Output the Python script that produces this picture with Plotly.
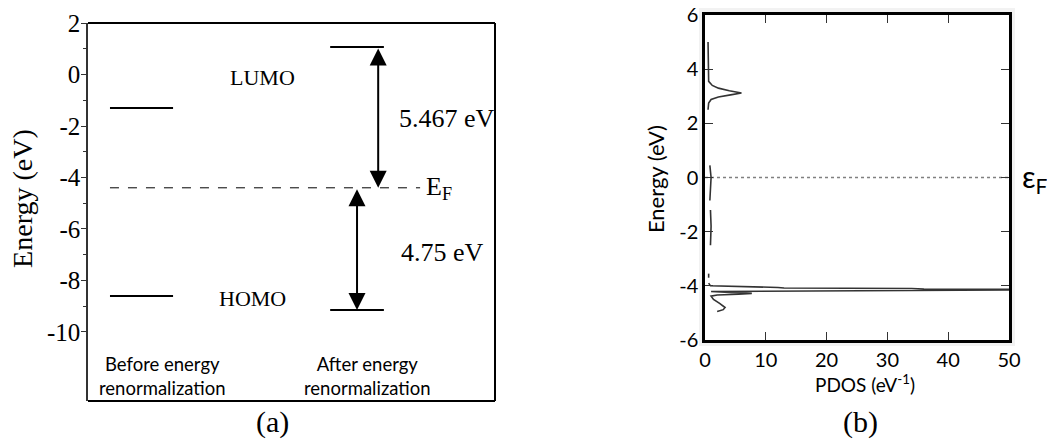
import plotly.graph_objects as go

# ---- Panel (a): energy levels before/after renormalization ----
level_labels = ["LUMO", "HOMO"]
before_levels = [-1.3, -8.6]          # eV
after_levels = [1.067, -9.15]         # eV
fermi_level = -4.4                    # eV
gap_up_label = "5.467 eV"
gap_down_label = "4.75 eV"
a_ticks = [2, 0, -2, -4, -6, -8, -10]
a_minor = [1, -1, -3, -5, -7, -9]

# ---- Panel (b): projected density of states ----
pdos_energy = [
    5.0, 4.5, 4.0, 3.55, 3.4, 3.3, 3.2, 3.12, 3.05, 2.97, 2.88, 2.75, 2.5, None,
    0.45, 0.0, -0.85, None,
    -1.2, -1.8, -2.5, None,
    -3.55, -3.7, None,
    -3.9, -4.0, -4.06, -4.08, -4.10, -4.12, -4.14, -4.16, -4.18, -4.20, -4.21,
    -4.24, -4.28, -4.31, -4.34, -4.38, -4.5, -4.65, -4.8, -4.88, -4.95,
]
pdos_value = [
    0.5, 0.5, 0.5, 0.6, 1.2, 2.2, 4.0, 6.0, 4.2, 2.2, 1.0, 0.6, 0.5, None,
    0.8, 1.0, 0.8, None,
    0.9, 1.0, 0.9, None,
    0.6, 0.6, None,
    0.6, 0.9, 12.0, 13.0, 34.0, 36.0, 60.0, 36.0, 13.0, 12.0, 1.0,
    4.0, 7.7, 5.5, 2.0, 1.0, 1.4, 2.4, 3.3, 3.0, 2.0,
]
fermi_b = 0.0
b_xticks = [0, 10, 20, 30, 40, 50]
b_yticks = [-6, -4, -2, 0, 2, 4, 6]

SERIF = "Liberation Serif"
SANS = "Lato"

fig = go.Figure()

# energy levels in panel (a)
before_x = (0.054, 0.209)
after_x = (0.595, 0.727)
for lv in before_levels:
    fig.add_trace(go.Scatter(x=list(before_x), y=[lv, lv], mode="lines",
                             line=dict(color="black", width=2),
                             xaxis="x", yaxis="y", hoverinfo="skip"))
for lv in after_levels:
    fig.add_trace(go.Scatter(x=list(after_x), y=[lv, lv], mode="lines",
                             line=dict(color="black", width=2),
                             xaxis="x", yaxis="y", hoverinfo="skip"))
# Fermi level (dashed)
fig.add_trace(go.Scatter(x=[0.054, 0.816], y=[fermi_level, fermi_level], mode="lines",
                         line=dict(color="black", width=1, dash="dash"),
                         xaxis="x", yaxis="y", hoverinfo="skip"))

# panel (b): Fermi dotted line and PDOS curve
fig.add_trace(go.Scatter(x=[0, 50], y=[fermi_b, fermi_b], mode="lines",
                         line=dict(color="#808080", width=1.5, dash="dot"),
                         xaxis="x2", yaxis="y2", hoverinfo="skip"))
fig.add_trace(go.Scatter(x=pdos_value, y=pdos_energy, mode="lines",
                         line=dict(color="#333333", width=1.6),
                         connectgaps=False, xaxis="x2", yaxis="y2", hoverinfo="skip"))

annotations = []

# double-headed gap arrows
annotations.append(dict(x=0.713, y=fermi_level, ax=0.713, ay=after_levels[0],
                        xref="x", yref="y", axref="x", ayref="y", text="",
                        showarrow=True, arrowhead=2, startarrowhead=2,
                        arrowside="end+start", arrowsize=1.7, startarrowsize=1.7,
                        arrowwidth=2, arrowcolor="black"))
annotations.append(dict(x=0.661, y=after_levels[1], ax=0.661, ay=fermi_level,
                        xref="x", yref="y", axref="x", ayref="y", text="",
                        showarrow=True, arrowhead=2, startarrowhead=2,
                        arrowside="end+start", arrowsize=1.7, startarrowsize=1.7,
                        arrowwidth=2, arrowcolor="black"))

def txt(text, x, y, size, family, xref="x", yref="y", xanchor="center",
        yanchor="middle", angle=0):
    annotations.append(dict(text=text, x=x, y=y, xref=xref, yref=yref,
                            xanchor=xanchor, yanchor=yanchor, showarrow=False,
                            textangle=angle,
                            font=dict(size=size, family=family, color="black")))

txt(level_labels[0], 0.428, -0.1, 22, SERIF)
txt(level_labels[1], 0.403, -8.68, 22, SERIF)
txt(gap_up_label, 0.760, -1.69, 26, SERIF, xanchor="left")
txt(gap_down_label, 0.765, -6.93, 26, SERIF, xanchor="left")
txt("E<sub>F</sub>", 0.826, fermi_level, 26, SERIF, xanchor="left")
txt("Before energy<br>renormalization", 0.182, -11.72, 18.5, SANS)
txt("After energy<br>renormalization", 0.686, -11.72, 18.5, SANS)
txt("Energy (eV)", 0.022, 0.547, 28, SERIF, xref="paper", yref="paper", angle=-90)
txt("(a)", 272 / 1047, 0.039, 30, SERIF, xref="paper", yref="paper")

# panel (b) labels
txt("Energy (eV)", 655 / 1047, 0.592, 22, SANS, xref="paper", yref="paper", angle=-90)
txt("PDOS (eV<sup>-1</sup>)", 865 / 1047, 0.126, 19, SANS, xref="paper", yref="paper")
txt("ε<sub>F</sub>", 1020 / 1047, fermi_b, 30, SANS, xref="paper", yref="y2", xanchor="left")
txt("(b)", 860 / 1047, 0.039, 30, SERIF, xref="paper", yref="paper")

shapes = [
    # frame of panel (a): top, right, bottom
    dict(type="line", xref="x domain", yref="y domain", x0=0, x1=1, y0=1, y1=1,
         line=dict(color="black", width=2)),
    dict(type="line", xref="x domain", yref="y domain", x0=1, x1=1, y0=0, y1=1,
         line=dict(color="black", width=2)),
    dict(type="line", xref="x domain", yref="y domain", x0=0, x1=1, y0=0, y1=0,
         line=dict(color="black", width=2)),
    # faint grey surround of panel (b)
    dict(type="rect", xref="paper", yref="paper", layer="below",
         x0=699 / 1047, x1=1015 / 1047, y0=(439 - 346) / 439, y1=(439 - 8) / 439,
         fillcolor="#f2f2f2", line=dict(width=0)),
    dict(type="rect", xref="x2 domain", yref="y2 domain", layer="below",
         x0=0, x1=1, y0=0, y1=1, fillcolor="white", line=dict(width=0)),
]

fig.update_layout(
    width=1047, height=439,
    margin=dict(l=0, r=0, t=0, b=0, autoexpand=False),
    paper_bgcolor="white", plot_bgcolor="rgba(0,0,0,0)",
    showlegend=False,
    annotations=annotations,
    shapes=shapes,
    xaxis=dict(domain=[88 / 1047, 495 / 1047], range=[0, 1], visible=False,
               fixedrange=True, automargin=False),
    yaxis=dict(domain=[(439 - 401) / 439, (439 - 23) / 439], range=[-12.68, 2.0],
               automargin=False,
               showline=True, linecolor="#333", linewidth=1.5,
               showgrid=False, zeroline=False,
               tickmode="array", tickvals=a_ticks,
               ticktext=[str(v) if v >= 0 else "-" + str(-v) for v in a_ticks],
               ticks="outside", ticklen=5, tickwidth=1.2, tickcolor="#333",
               minor=dict(tickmode="array", tickvals=a_minor, ticks="outside",
                          ticklen=3, tickwidth=1.2, tickcolor="#333"),
               tickfont=dict(family=SERIF, size=25, color="black"),
               ticklabelstandoff=-4),
    xaxis2=dict(domain=[705 / 1047, 1009 / 1047], range=[0, 50], anchor="y2",
                automargin=False,
                showline=True, mirror="ticks", linecolor="black", linewidth=2.5,
                showgrid=False, zeroline=False,
                tickmode="array", tickvals=b_xticks,
                ticks="inside", ticklen=8, tickwidth=1.3, tickcolor="#333",
                tickfont=dict(family=SANS, size=20, color="black")),
    yaxis2=dict(domain=[(439 - 340) / 439, (439 - 15) / 439], range=[-6, 6], anchor="x2",
                automargin=False,
                showline=True, mirror="ticks", linecolor="black", linewidth=2.5,
                showgrid=False, zeroline=False,
                tickmode="array", tickvals=b_yticks,
                ticktext=[str(v) if v >= 0 else "-" + str(-v) for v in b_yticks],
                ticks="inside", ticklen=8, tickwidth=1.3, tickcolor="#333",
                tickfont=dict(family=SANS, size=20, color="black")),
)

fig.write_html("out.html")
